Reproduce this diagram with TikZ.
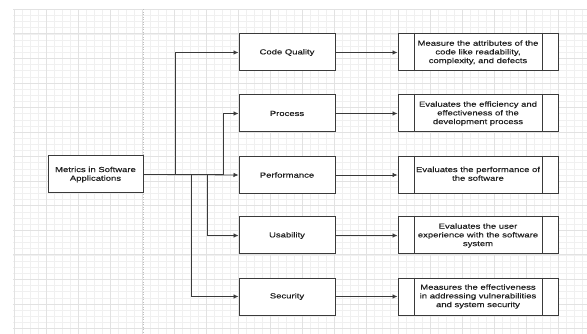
\documentclass[tikz,border=0pt]{standalone}
\usepackage{fontspec}
\newfontfamily\widesans[FakeStretch=1.3,FakeBold=0.35]{Liberation Sans}
\usetikzlibrary{arrows.meta}
\definecolor{gridminor}{HTML}{F0F0F0}
\definecolor{gridmajor}{HTML}{E2E2E2}
\definecolor{boxline}{HTML}{3A3A3A}
\definecolor{txt}{HTML}{1E1E1E}
\tikzset{
  lbl/.style={font=\widesans\fontsize{7.3}{8.7}\selectfont, text=txt, align=center},
  mainbox/.style={draw=boxline, line width=1pt, fill=white, minimum width=95pt, minimum height=37pt, inner sep=0pt, lbl},
  midbox/.style={draw=boxline, line width=1pt, fill=white, minimum width=96pt, minimum height=37pt, inner sep=0pt, lbl},
  procbox/.style={draw=boxline, line width=1pt, fill=white, minimum width=160pt, minimum height=37pt, inner sep=0pt,
    path picture={
      \draw[boxline, line width=1pt] ([xshift=16pt]path picture bounding box.north west) -- ([xshift=16pt]path picture bounding box.south west);
      \draw[boxline, line width=1pt] ([xshift=-16pt]path picture bounding box.north east) -- ([xshift=-16pt]path picture bounding box.south east);
    }},
  arr/.style={draw=boxline, line width=0.75pt, -{Latex[length=5pt,width=4.5pt]}},
}
\begin{document}
\begin{tikzpicture}[x=1pt, y=-1pt]
\useasboundingbox (0,0) rectangle (587,334);
\fill[white] (0,0) rectangle (587,334);
% grid
\begin{scope}
\clip (13,9.3) rectangle (587,334);
\foreach \i in {0,...,72} { \draw[gridminor, line width=0.5pt] (14.5+8*\i,9.3) -- (14.5+8*\i,334); }
\foreach \j in {0,...,54} { \draw[gridminor, line width=0.5pt] (13,9.3+6.1375*\j) -- (587,9.3+6.1375*\j); }
\foreach \i in {0,...,18} { \draw[gridmajor, line width=0.7pt] (14.5+32*\i,9.3) -- (14.5+32*\i,334); }
\foreach \j in {0,...,13} { \draw[gridmajor, line width=0.7pt] (13,9.3+24.55*\j) -- (587,9.3+24.55*\j); }
\end{scope}
\draw[gridmajor, line width=0.7pt] (13,9.3) -- (587,9.3);
\draw[black!25, line width=0.6pt, dash pattern=on 1pt off 1.5pt] (143,9.3) -- (143,334);

% nodes
\node[mainbox] (main) at (95.5,174.5) {Metrics in Software\\Applications};
\node[midbox] (cq)   at (287,52.5)  {Code Quality};
\node[midbox] (pr)   at (287,113.5) {Process};
\node[midbox] (pf)   at (287,175)   {Performance};
\node[midbox] (us)   at (287,235.5) {Usability};
\node[midbox] (se)   at (287,296.5) {Security};

\node[procbox] (dcq) at (478,52.5)  {};
\node[procbox] (dpr) at (478,113.5) {};
\node[procbox] (dpf) at (478,175)   {};
\node[procbox] (dus) at (478,235.5) {};
\node[procbox] (dse) at (478,296.5) {};

\node[lbl] (tcq) at (dcq.center) {Measure the attributes of the\\code like readability,\\complexity, and defects};
\node[lbl] (tpr) at (dpr.center) {Evaluates the efficiency and\\effectiveness of the\\development process};
\node[lbl] (tpf) at ([yshift=-4.4pt]dpf.center) {Evaluates the performance of\\the software\\\strut};
\node[lbl] (tus) at (dus.center) {Evaluates the user\\experience with the software\\system};
\node[lbl] (tse) at (dse.center) {Measures the effectiveness\\in addressing vulnerabilities\\and system security};

% connectors
\draw[arr] (main.east) -- ++(32,0) |- (cq.west);
\draw[arr] (main.east) -- ++(80,0) |- (pr.west);
\draw[arr] (main.east) -- (pf.west);
\draw[arr] (main.east) -- ++(64,0) |- (us.west);
\draw[arr] (main.east) -- ++(48,0) |- (se.west);

\draw[arr] (cq.east) -- (dcq.west);
\draw[arr] (pr.east) -- (dpr.west);
\draw[arr] (pf.east) -- (dpf.west);
\draw[arr] (us.east) -- (dus.west);
\draw[arr] (se.east) -- (dse.west);
\end{tikzpicture}
\end{document}
